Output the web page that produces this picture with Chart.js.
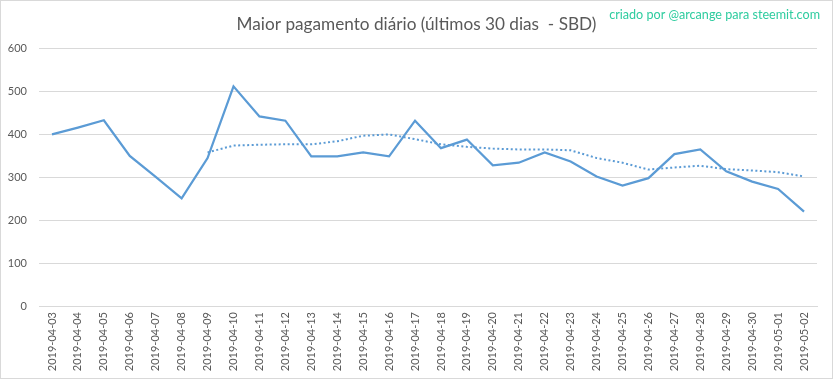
<!DOCTYPE html>
<html>
<head>
<meta charset="utf-8">
<script src="https://cdn.jsdelivr.net/npm/chart.js@4/dist/chart.umd.min.js"></script>
<style>
  html, body { margin: 0; padding: 0; background: #ffffff; }
  #wrap { position: relative; width: 833px; height: 379px; box-sizing: border-box; }
  #wrap:after { content: ""; position: absolute; left: 0; top: 0; right: 0; bottom: 0; border: 1px solid #d9d9d9; pointer-events: none; }
  canvas { display: block; }
</style>
</head>
<body>
<div id="wrap"><canvas id="c" width="833" height="379"></canvas></div>
<script>
const categories = ["2019-04-03","2019-04-04","2019-04-05","2019-04-06","2019-04-07","2019-04-08","2019-04-09","2019-04-10","2019-04-11","2019-04-12","2019-04-13","2019-04-14","2019-04-15","2019-04-16","2019-04-17","2019-04-18","2019-04-19","2019-04-20","2019-04-21","2019-04-22","2019-04-23","2019-04-24","2019-04-25","2019-04-26","2019-04-27","2019-04-28","2019-04-29","2019-04-30","2019-05-01","2019-05-02"];
const maxPayout = [400,416,433,350,301,251,345,512,442,432,349,349,358,349,432,368,388,328,334,358,337,302,281,298,354,365,314,290,273,220];
const movingAvg7 = [null,null,null,null,null,null,358,374,376,377,377,384,397,400,389,377,371,367,365,365,363,345,334,318,323,327,319,316,312,302];
const yTicks = [0,100,200,300,400,500,600];
const titleText = "Maior pagamento diário (últimos 30 dias  - SBD)";
const creditText = "criado por @arcange para steemit.com";

const creditPlugin = {
  id: 'credit',
  afterDraw(chart) {
    const ctx = chart.ctx;
    ctx.save();
    ctx.font = '12.6px Lato';
    ctx.fillStyle = '#2ecc9f';
    ctx.textAlign = 'right';
    ctx.textBaseline = 'alphabetic';
    ctx.fillText(creditText, 820, 19);
    ctx.restore();
  }
};

new Chart(document.getElementById('c'), {
  type: 'line',
  data: {
    labels: categories,
    datasets: [
      {
        data: maxPayout,
        borderColor: '#5b9bd5',
        borderWidth: 2.25,
        pointRadius: 0,
        tension: 0,
        fill: false
      },
      {
        data: movingAvg7,
        borderColor: '#5b9bd5',
        borderWidth: 2,
        borderDash: [2, 2.5],
        pointRadius: 0,
        tension: 0,
        fill: false,
        spanGaps: false
      }
    ]
  },
  options: {
    responsive: false,
    animation: false,
    layout: { padding: { left: 0, right: 0, top: 0, bottom: 0 } },
    plugins: {
      legend: { display: false },
      tooltip: { enabled: false },
      title: {
        display: true,
        text: titleText,
        color: '#595959',
        font: { family: 'Lato', size: 17.2, weight: 'normal' },
        padding: { top: 14, bottom: 14 }
      }
    },
    scales: {
      x: {
        offset: true,
        grid: { display: false, drawTicks: false },
        border: { display: true, color: '#d9d9d9', width: 1 },
        ticks: {
          color: '#595959',
          font: { family: 'Lato', size: 11 },
          minRotation: 90,
          maxRotation: 90,
          autoSkip: false,
          padding: 6
        },
        afterFit(scale) { scale.height = 73; }
      },
      y: {
        min: 0,
        max: 600,
        afterBuildTicks(scale) { scale.ticks = yTicks.map(v => ({ value: v })); },
        grid: { color: '#d9d9d9', lineWidth: 1, drawTicks: false },
        border: { display: false },
        ticks: {
          color: '#595959',
          font: { family: 'Lato', size: 11 },
          padding: 12
        },
        afterFit(scale) { scale.width = 39; }
      },
      yRight: {
        position: 'right',
        min: 0,
        max: 600,
        grid: { display: false, drawTicks: false },
        border: { display: false },
        ticks: { display: false },
        afterFit(scale) { scale.width = 16; }
      }
    }
  },
  plugins: [creditPlugin]
});
</script>
</body>
</html>
